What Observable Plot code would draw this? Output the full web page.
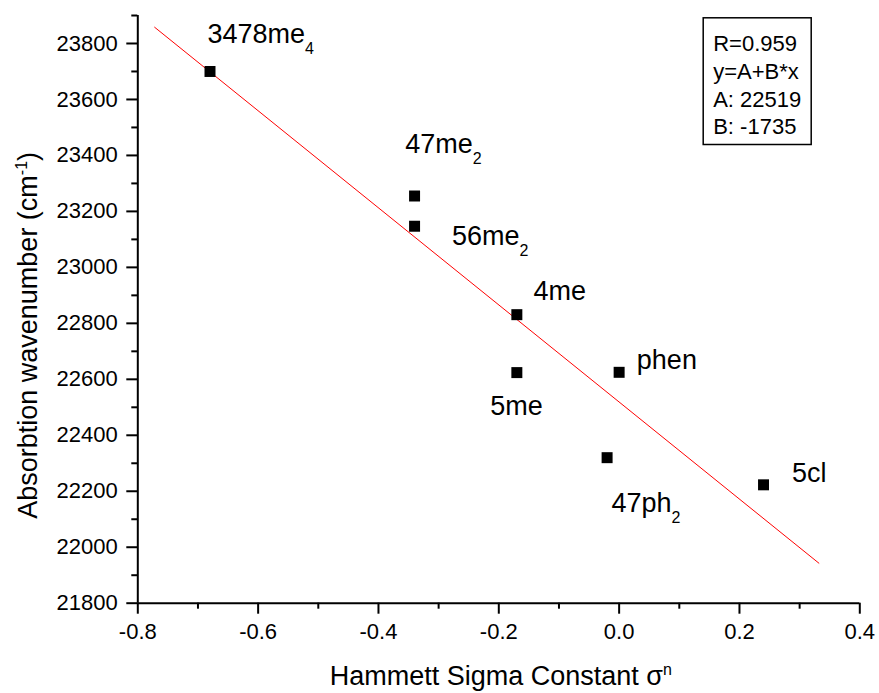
<!DOCTYPE html>
<html>
<head>
<meta charset="utf-8">
<script src="https://cdn.jsdelivr.net/npm/d3@7"></script>
<script src="https://cdn.jsdelivr.net/npm/@observablehq/plot@0.6"></script>
<style>
  html, body { margin: 0; padding: 0; background: white; }
  svg text { font-family: "Liberation Sans", Arial, Helvetica, sans-serif; }
</style>
</head>
<body>
<div id="chart"></div>
<script>
// ---- data ----
const sigma      = [-0.68, -0.34, -0.34, -0.17, -0.17, 0.00, -0.02, 0.24];
const wavenumber = [23700, 23255, 23147, 22831, 22624, 22625, 22320, 22223];
const labels     = ["3478me_{4}", "47me_{2}", "56me_{2}", "4me", "5me", "phen", "47ph_{2}", "5cl"];

// linear fit drawn in the reference (end points)
const fitX = [-0.772, 0.332];
const fitY = [23858, 21943];

const legendLines = ["R=0.959", "y=A+B*x", "A: 22519", "B: -1735"];

const xMajor = [-0.8, -0.6, -0.4, -0.2, 0.0, 0.2, 0.4];
const xMinor = [-0.7, -0.5, -0.3, -0.1, 0.1, 0.3];
const yMajor = [21800, 22000, 22200, 22400, 22600, 22800, 23000, 23200, 23400, 23600, 23800];
const yMinor = [21900, 22100, 22300, 22500, 22700, 22900, 23100, 23300, 23500, 23700, 23900];

const xTitle = "Hammett Sigma Constant σ^{n}";
const yTitle = "Absorbtion wavenumber (cm^{-1})";

// ---- layout / style (not data) ----
const labelOffsets = [
  [-2.6, -28.7], [-9.3, -42.7], [37.4, 19], [16.6, -14.3],
  [-26.7, 42.7], [17.7, -3.7], [4.3, 54.4], [28.4, -2.6]
];
const idx = sigma.map((_, i) => i);

const chart = Plot.plot({
  width: 879,
  height: 693,
  marginLeft: 137.3,
  marginRight: 19.7,
  marginTop: 15,
  marginBottom: 90.3,
  style: { fontFamily: "Liberation Sans, Arial, sans-serif", fontSize: "22px", color: "black", background: "white" },
  x: { domain: [-0.8, 0.4] },
  y: { domain: [21800, 23900] },
  marks: [
    Plot.axisX({ ticks: xMajor, tickSize: 11, tickPadding: 9, strokeWidth: 2, fontSize: 22,
                 tickFormat: d => d.toFixed(1), label: null }),
    Plot.axisX({ ticks: xMinor, tickSize: 6, strokeWidth: 2, tickFormat: () => "", label: null }),
    Plot.axisY({ ticks: yMajor, tickSize: 11, tickPadding: 9, strokeWidth: 2, fontSize: 22,
                 tickFormat: d => String(d), label: null }),
    Plot.axisY({ ticks: yMinor, tickSize: 6, strokeWidth: 2, tickFormat: () => "", label: null }),
    Plot.ruleX([-0.8], { stroke: "black", strokeWidth: 2 }),
    Plot.ruleY([21800], { stroke: "black", strokeWidth: 2 }),
    Plot.line(fitX.map((_, i) => i), { x: i => fitX[i], y: i => fitY[i], stroke: "#ff0000", strokeWidth: 1 }),
    Plot.dot(idx, { x: i => sigma[i], y: i => wavenumber[i], symbol: "square", r: 6.2, fill: "black", stroke: null }),
    ...idx.map(i => Plot.text([i], {
      x: j => sigma[j], y: j => wavenumber[j], text: j => labels[j],
      dx: labelOffsets[i][0], dy: labelOffsets[i][1],
      textAnchor: "start", lineAnchor: "bottom", fontSize: 27, fill: "black"
    })),
    Plot.frame({ stroke: "black", strokeWidth: 1.5, insetLeft: 565.4, insetRight: 48.6, insetTop: 2.3, insetBottom: 458.7 }),
    Plot.text([legendLines.join("\n")], {
      text: d => d, frameAnchor: "top-left", dx: 575.4, dy: 16.1,
      lineAnchor: "top", lineHeight: 1.259, textAnchor: "start", fontSize: 22, fill: "black"
    }),
    Plot.text([xTitle], {
      text: d => d, frameAnchor: "bottom", dx: 2, dy: 81.3,
      lineAnchor: "bottom", textAnchor: "middle", fontSize: 27, fill: "black"
    }),
    Plot.text([yTitle], {
      text: d => d, frameAnchor: "left", dx: -101.3, dy: 26, rotate: -90,
      lineAnchor: "bottom", textAnchor: "middle", fontSize: 27, fill: "black"
    })
  ]
});

// turn _{..} / ^{..} markers into real sub/superscript tspans
function richify(svg) {
  d3.select(svg).selectAll("text").each(function () {
    const s = this.textContent;
    if (!/[\^_]\{/.test(s) || this.querySelector("tspan")) return;
    const re = /(\^|_)\{([^}]*)\}/g;
    const segs = [];
    let last = 0, m;
    while ((m = re.exec(s))) {
      if (m.index > last) segs.push({ t: s.slice(last, m.index), k: "n" });
      segs.push({ t: m[2], k: m[1] === "^" ? "sup" : "sub" });
      last = re.lastIndex;
    }
    if (last < s.length) segs.push({ t: s.slice(last), k: "n" });
    this.textContent = "";
    let shift = 0;
    for (const sg of segs) {
      const ts = document.createElementNS("http://www.w3.org/2000/svg", "tspan");
      const target = sg.k === "sub" ? 11 : sg.k === "sup" ? -10 : 0;
      const d = target - shift;
      if (d !== 0) ts.setAttribute("dy", d);
      shift = target;
      if (sg.k !== "n") ts.setAttribute("font-size", 16);
      ts.textContent = sg.t;
      this.appendChild(ts);
    }
  });
}
richify(chart);
document.getElementById("chart").appendChild(chart);
</script>
</body>
</html>
